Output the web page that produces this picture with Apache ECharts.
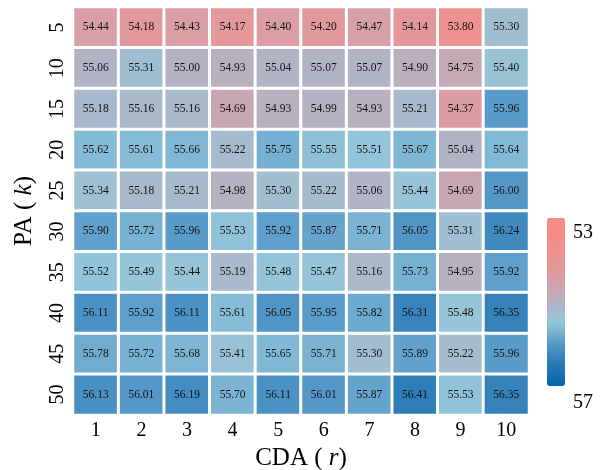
<!DOCTYPE html>
<html>
<head>
<meta charset="utf-8">
<script src="https://cdn.jsdelivr.net/npm/echarts@6/dist/echarts.min.js"></script>
<style>
  html, body { margin: 0; padding: 0; background: #fff; }
  #chart { width: 602px; height: 470px; }
</style>
</head>
<body>
<div id="chart"></div>
<script>
// Column categories: CDA (r)
const cdaLabels = ['1', '2', '3', '4', '5', '6', '7', '8', '9', '10'];
// Row categories: PA (k)
const paLabels = ['5', '10', '15', '20', '25', '30', '35', '40', '45', '50'];

// Scores, one array per PA row, ordered by CDA column
const rowK5  = [54.44, 54.18, 54.43, 54.17, 54.40, 54.20, 54.47, 54.14, 53.80, 55.30];
const rowK10 = [55.06, 55.31, 55.00, 54.93, 55.04, 55.07, 55.07, 54.90, 54.75, 55.40];
const rowK15 = [55.18, 55.16, 55.16, 54.69, 54.93, 54.99, 54.93, 55.21, 54.37, 55.96];
const rowK20 = [55.62, 55.61, 55.66, 55.22, 55.75, 55.55, 55.51, 55.67, 55.04, 55.64];
const rowK25 = [55.34, 55.18, 55.21, 54.98, 55.30, 55.22, 55.06, 55.44, 54.69, 56.00];
const rowK30 = [55.90, 55.72, 55.96, 55.53, 55.92, 55.87, 55.71, 56.05, 55.31, 56.24];
const rowK35 = [55.52, 55.49, 55.44, 55.19, 55.48, 55.47, 55.16, 55.73, 54.95, 55.92];
const rowK40 = [56.11, 55.92, 56.11, 55.61, 56.05, 55.95, 55.82, 56.31, 55.48, 56.35];
const rowK45 = [55.78, 55.72, 55.68, 55.41, 55.65, 55.71, 55.30, 55.89, 55.22, 55.96];
const rowK50 = [56.13, 56.01, 56.19, 55.70, 56.11, 56.01, 55.87, 56.41, 55.53, 56.35];

const rows = [rowK5, rowK10, rowK15, rowK20, rowK25, rowK30, rowK35, rowK40, rowK45, rowK50];

// Colour scale range and its end labels
const scaleMin = 53;
const scaleMax = 57;
const scaleLabels = ['53', '57'];

const cells = [];
rows.forEach((row, yi) => {
  row.forEach((v, xi) => cells.push([xi, yi, v]));
});

const serif = '"Liberation Serif", "DejaVu Serif", serif';

const chart = echarts.init(document.getElementById('chart'), null, { renderer: 'canvas' });
chart.setOption({
  animation: false,
  backgroundColor: '#ffffff',
  grid: { left: 73, top: 7, width: 456, height: 408, containLabel: false, outerBoundsMode: 'none' },
  xAxis: {
    type: 'category',
    data: cdaLabels,
    axisLine: { show: false },
    axisTick: { show: false },
    splitLine: { show: false },
    axisLabel: { fontFamily: serif, fontSize: 20, color: '#000', margin: 6 },
    name: 'CDA ( {i|r})',
    nameLocation: 'middle',
    nameGap: 30,
    nameTextStyle: {
      fontFamily: serif, fontSize: 25, color: '#000',
      rich: { i: { fontFamily: serif, fontStyle: 'italic', fontSize: 25, color: '#000' } }
    }
  },
  yAxis: {
    type: 'category',
    data: paLabels,
    inverse: true,
    axisLine: { show: false },
    axisTick: { show: false },
    splitLine: { show: false },
    axisLabel: { fontFamily: serif, fontSize: 20, color: '#000', rotate: 90, margin: 5 },
    name: 'PA ( {i|k})',
    nameLocation: 'middle',
    nameGap: 36,
    nameRotate: 90,
    nameTextStyle: {
      fontFamily: serif, fontSize: 25, color: '#000',
      rich: { i: { fontFamily: serif, fontStyle: 'italic', fontSize: 25, color: '#000' } }
    }
  },
  visualMap: {
    type: 'continuous',
    min: scaleMin,
    max: scaleMax,
    inverse: true,
    orient: 'vertical',
    left: 547,
    top: 218,
    padding: 0,
    itemWidth: 18,
    itemHeight: 168,
    calculable: false,
    text: null,
    showLabel: false,
    inRange: {
      color: ['#fa8a80', '#f48d87', '#ea9394', '#d6a1a8', '#b4b2c2',
              '#94c6da', '#5598c8', '#2878b6', '#0564aa']
    }
  },
  graphic: [
    { type: 'text', left: 573, top: 223, style: { text: scaleLabels[0], font: '20px ' + serif, fill: '#000' } },
    { type: 'text', left: 573, top: 393, style: { text: scaleLabels[1], font: '20px ' + serif, fill: '#000' } }
  ],
  series: [{
    type: 'heatmap',
    data: cells,
    itemStyle: { borderColor: '#ffffff', borderWidth: 3 },
    label: {
      show: true,
      fontFamily: serif,
      fontSize: 11.5,
      color: '#111',
      formatter: p => p.value[2].toFixed(2)
    },
    emphasis: { disabled: true }
  }]
});
</script>
</body>
</html>
